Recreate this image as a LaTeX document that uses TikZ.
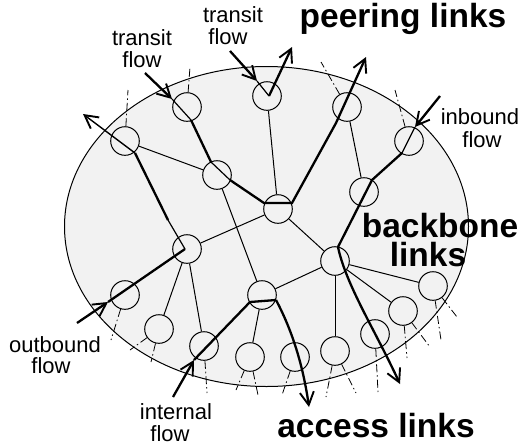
\documentclass[tikz,border=0pt]{standalone}
\usepackage{fontspec}
\setmainfont{Liberation Sans}
\usetikzlibrary{arrows.meta}
\definecolor{cloud}{HTML}{F2F2F2}
\tikzset{
  router/.style={circle,draw=black,line width=1pt,minimum size=28.6pt,inner sep=0pt},
  netlink/.style={line width=1pt},
  stub/.style={line width=0.8pt,dash pattern=on 8pt off 3pt on 1.5pt off 3pt},
  flow/.style={line width=2.3pt,line join=miter},
  innerflow/.style={line width=1.2pt},
  barb/.style={-{Straight Barb[length=13pt,width=14pt,line width=1.9pt]}},
  small/.style={font=\fontsize{22}{22}\selectfont,anchor=base,inner sep=0pt},
  big/.style={font=\fontsize{33.5}{33.5}\selectfont\bfseries,anchor=base,inner sep=0pt},
}
\begin{document}
\begin{tikzpicture}[x=1pt,y=-1pt]
\useasboundingbox (0,0) rectangle (522,445);
\fill[cloud,draw=black,line width=1pt] (266.5,226.5) ellipse [x radius=202,y radius=160];
% routers
\foreach \nm/\x/\y in {a/125/141,b/187/107,c/267/96,d/347/107,e/409/141,f/217/175,g/278/209,h/364/192,
  i/187/249,j/335/261,k/262/295,l/125/295,m/159/329,n/204/346,o/250/357,p/295/357,q/335/351,r/375/334,s/403/311,t/433/286}
  \node[router] (\nm) at (\x,\y) {};
% thin links
\foreach \u/\v in {a/f,c/g,d/h,f/k,g/i,g/j,i/m,i/n,k/o,k/j,j/q,j/s,j/t}
  \draw[netlink] (\u) -- (\v);
% stubs
\foreach \nm/\rr/\x/\y in {a/1/128/90,b/1/190/67,d/1/321/62,e/1/395/90,
  l/1/111/340,m/1/130/350,m/2/151/362,n/1/207/393,o/1/236/390,o/2/258/395,
  p/1/282/395,q/1/326/397,q/2/356/393,r/1/378/392,s/1/407/358,s/2/430/347,t/1/441/340,t/2/457/317}{
  \coordinate (end\nm\rr) at (\x,\y);
  \draw[stub] (\nm) -- (end\nm\rr);
}
% flow way points
\coordinate (t1a) at (145,73);   \coordinate (t1b) at (172,99);
\coordinate (t1c) at (191,120);  \coordinate (t1d) at (211,162);
\coordinate (t1e) at (230,180);  \coordinate (t1f) at (264,203);
\coordinate (t1g) at (292,203);  \coordinate (t1h) at (336,123);
\coordinate (t1i) at (366,57);
\coordinate (t2a) at (230,51);   \coordinate (t2b) at (257,81);
\coordinate (t2c) at (269,96);   \coordinate (t2d) at (292,47);
\coordinate (oa) at (77,323);    \coordinate (ob) at (108,302);
\coordinate (oc) at (185,249);   \coordinate (od) at (168,220);
\coordinate (oe) at (135,153);   \coordinate (of) at (83,114);
\coordinate (ia) at (173,397);   \coordinate (ib) at (194,360);
\coordinate (ic) at (250,302);   \coordinate (id) at (276,300);
\coordinate (ie) at (309,407);
\coordinate (ua) at (440,96);    \coordinate (ub) at (415,127);
\coordinate (uc) at (402,153);   \coordinate (ud) at (372,180);
\coordinate (ue) at (338,247);   \coordinate (uf) at (400,384);
% transit flow through the backbone
\draw[flow,barb] (t1a) -- (t1b);
\draw[innerflow] (t1b) -- (t1c);
\draw[flow] (t1c) -- (t1d);
\draw[innerflow] (t1d) -- (t1e);
\draw[flow,barb] (t1e) -- (t1f) -- (t1g) -- (t1h) -- (t1i);
% transit flow at one router
\draw[flow,barb] (t2a) -- (t2b);
\draw[innerflow] (t2b) -- (t2c);
\draw[flow,barb] (t2c) -- (t2d);
% outbound flow
\draw[flow,barb] (oa) -- (ob);
\draw[flow] (ob) -- (oc);
\draw[innerflow] (oc) -- (od);
\draw[flow] (od) -- (oe);
\draw[innerflow,line width=1.4pt,barb] (oe) -- (of);
% internal flow
\draw[flow,barb] (ia) -- (ib);
\draw[flow] (ib) -- (ic) -- (id);
\draw[flow,barb] (id) .. controls (292,330) and (303,365) .. (ie);
% inbound flow
\draw[flow,barb] (ua) -- (ub);
\draw[innerflow] (ub) -- (uc);
\draw[flow] (uc) -- (ud) -- (ue);
\draw[flow,barb] (ue) .. controls (346,285) and (375,330) .. (uf);
% labels
\node[small] (l1) at (142,45) {transit};
\node[small] (l2) at (142,67) {flow};
\node[small] (l3) at (233,22) {transit};
\node[small] (l4) at (228,44) {flow};
\node[small] (l5) at (480,124) {inbound};
\node[small] (l6) at (482,147) {flow};
\node[small] (l7) at (55,352) {outbound};
\node[small] (l8) at (51,373) {flow};
\node[small] (l9) at (176,419) {internal};
\node[small] (l10) at (170,441) {flow};
\node[big] (b1) at (403,27) {peering links};
\node[big] (b2) at (440,237) {backbone};
\node[big] (b3) at (428,266) {links};
\node[big] (b4) at (376,437) {access links};
\end{tikzpicture}
\end{document}
